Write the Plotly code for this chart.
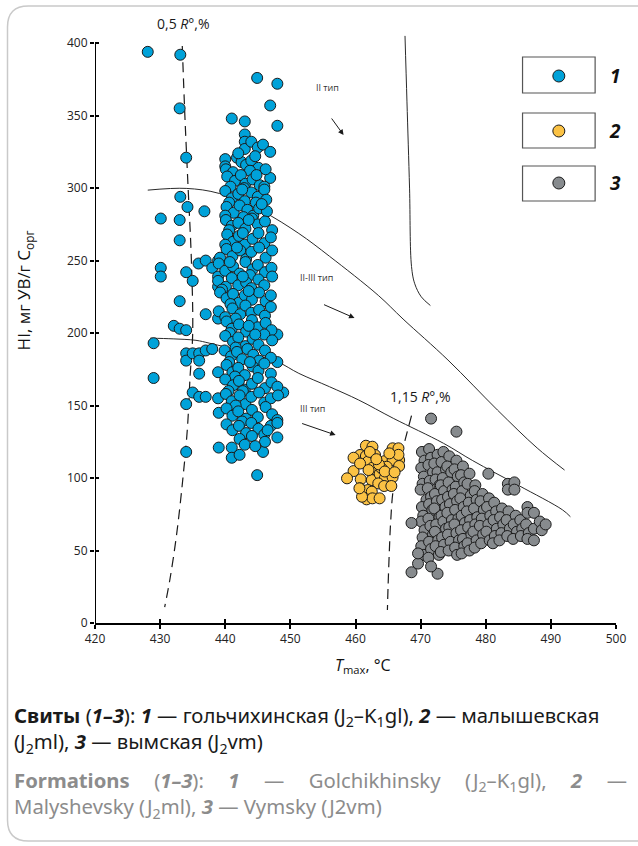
import plotly.graph_objects as go

# ---------------- data ----------------
x_ticks = [420, 430, 440, 450, 460, 470, 480, 490, 500]
y_ticks = [0, 50, 100, 150, 200, 250, 300, 350, 400]

blue_tmax = [
    428.1, 433.1, 433.0, 434.0, 433.1, 434.2, 436.8, 430.1, 433.0, 433.0,
    434.0, 430.1, 430.1, 435.0, 435.9, 437.0, 433.0, 437.0, 438.9, 432.1,
    433.0, 434.0, 429.0, 429.0, 434.0, 434.0, 435.0, 436.0, 437.0, 438.0,
    436.0, 436.0, 435.0, 436.0, 437.0, 434.0, 434.0, 439.0, 439.0, 441.0,
    441.0, 445.8, 444.9, 448.0, 448.9, 448.0, 448.0, 444.9, 448.0, 446.9,
    448.0, 441.0, 443.0, 443.0, 443.0, 443.0, 444.0, 445.0, 445.8, 446.9,
    440.0, 440.0, 441.8, 446.9, 438.9, 438.0, 438.9, 438.9, 438.9, 438.9,
    440.1, 442.5, 443.2, 444.0, 445.1, 443.8, 441.2, 446.2, 444.6, 442.0,
    440.3, 441.5, 442.4, 443.1, 444.2, 445.3, 440.8, 442.9, 444.8, 446.0,
    440.0, 441.0, 442.0, 443.0, 444.0, 445.0, 446.0, 440.6, 442.6, 444.7, 446.3,
    440.2, 441.3, 442.2, 443.4, 444.3, 445.2, 446.4, 440.0, 442.8, 445.6,
    440.1, 441.0, 442.0, 443.1, 444.1, 445.0, 446.1, 447.2, 440.6, 443.6,
    440.3, 441.2, 442.1, 443.0, 444.2, 445.1, 446.0, 447.0, 440.0, 442.7,
    440.2, 441.1, 442.3, 443.2, 444.0, 445.2, 446.2, 447.2, 439.2, 441.8,
    439.0, 440.0, 441.2, 442.2, 443.1, 444.2, 445.0, 446.1, 447.1, 440.7, 443.8,
    438.9, 440.1, 441.0, 442.0, 443.2, 444.0, 445.1, 446.0, 447.2, 439.5, 442.7,
    439.2, 440.2, 441.2, 442.1, 443.0, 444.1, 445.2, 446.2, 447.0, 440.8, 443.6,
    439.0, 440.0, 441.1, 442.3, 443.1, 444.0, 445.2, 446.1, 447.0, 441.6,
    440.2, 441.0, 442.1, 443.2, 444.1, 445.0, 446.2, 447.1, 440.7, 443.6,
    440.0, 441.2, 442.0, 443.1, 444.2, 445.1, 446.0, 447.2, 441.6, 444.6,
    439.9, 440.9, 441.8, 442.6, 443.4, 444.3, 445.2, 446.1, 447.0, 440.6,
    440.2, 441.1, 442.0, 443.0, 444.2, 445.1, 446.0, 447.0, 441.5, 443.8,
    440.0, 441.2, 442.1, 443.0, 444.1, 445.0, 446.1, 447.1, 448.0, 440.5, 442.7,
    440.1, 441.0, 442.2, 443.1, 444.0, 445.2, 446.0, 447.0, 448.1, 441.6,
    440.2, 441.1, 442.0, 443.2, 444.1, 445.0, 446.2, 447.2, 448.0, 442.6,
    440.2, 441.1, 442.1, 443.2, 444.0, 445.1, 446.0, 447.0, 448.0,
    442.2, 443.0, 444.1, 446.1, 444.6, 442.2, 446.5,
]
blue_hi = [
    394, 392, 355, 321, 294, 287, 284, 279, 278, 264,
    242, 245, 239, 236, 248, 250, 222, 213, 210, 205,
    203, 202, 193, 169, 186, 181, 186, 186, 188, 189,
    181, 172, 159, 156, 156, 151, 118, 145, 121, 121,
    114, 118, 102, 128, 159, 180, 199, 376, 372, 357,
    343, 348, 346, 337, 332, 327, 332, 328, 330, 325,
    320, 315, 321, 307, 250, 245, 239, 232, 173, 155,
    313, 318, 316, 319, 314, 312, 311, 313, 322, 324,
    308, 305, 309, 303, 306, 302, 301, 300, 309, 301,
    298, 293, 296, 291, 297, 294, 299, 290, 299, 290, 292,
    287, 283, 288, 285, 281, 286, 284, 281, 280, 289,
    278, 274, 276, 272, 279, 275, 277, 271, 271, 278,
    268, 263, 267, 261, 265, 269, 262, 266, 261, 269,
    258, 253, 257, 251, 256, 259, 252, 257, 252, 259,
    248, 243, 246, 241, 249, 244, 247, 242, 245, 249, 240,
    236, 232, 238, 233, 235, 231, 237, 233, 239, 230, 239,
    228, 224, 227, 221, 226, 223, 228, 222, 226, 220, 229,
    215, 211, 217, 213, 219, 214, 216, 212, 218, 210,
    208, 203, 206, 201, 209, 204, 207, 202, 200, 205,
    198, 194, 197, 191, 196, 192, 199, 195, 190, 199,
    188, 184, 187, 182, 189, 185, 181, 188, 183, 180,
    178, 173, 176, 171, 177, 174, 179, 172, 170, 180,
    168, 164, 167, 161, 165, 169, 162, 166, 163, 160, 160,
    158, 153, 157, 151, 156, 159, 152, 155, 157, 150,
    148, 143, 146, 141, 147, 142, 149, 144, 140, 139,
    137, 133, 136, 131, 138, 134, 130, 136, 138,
    127, 123, 129, 125, 122, 116, 133,
]

yellow_tmax = [
    461.6, 462.6, 460.7, 461.6, 461.9, 463.5, 464.5, 465.7, 466.6, 466.7,
    465.7, 466.7, 464.8, 462.6, 463.4, 459.7, 458.7, 460.8, 462.5, 463.7,
    464.5, 465.7, 463.5, 464.4, 465.5, 460.7, 461.9, 462.5, 461.7, 462.6,
    463.7, 461.0, 464.0, 463.0, 466.6, 459.7, 460.7, 462.0, 463.6, 464.5,
    460.6, 465.2, 462.2, 463.2, 466.0,
]
yellow_hi = [
    122.3, 121.6, 115.9, 115.2, 111.3, 111.3, 111.7, 120.5, 120.5, 112.4,
    112.4, 108.3, 107.8, 107.1, 104.4, 104.8, 99.8, 99.1, 98.6, 102.8,
    99.8, 100.5, 96.3, 94.5, 94.5, 92.9, 91.7, 90.6, 85.3, 86.0,
    86.0, 87.1, 106.7, 115.9, 116.0, 114.0, 110.0, 105.5, 109.4, 104.5,
    92.9, 117.0, 118.0, 113.0, 104.0,
]

gray_tmax = [
    470.2, 470.6, 470.1, 470.5, 470.3, 470.0, 470.9, 470.2, 470.4, 470.1, 470.6, 470.3, 470.1, 470.5,
    471.3, 471.6, 471.2, 471.9, 471.4, 471.1, 471.6, 471.3, 471.8, 471.2, 471.5, 471.9, 471.3, 471.6, 471.2,
    472.6, 472.1, 472.6, 472.3, 472.9, 472.2, 472.5, 472.1, 472.9, 472.4, 472.2, 472.7, 472.3, 472.8,
    473.5, 473.2, 473.9, 473.4, 473.1, 473.6, 473.3, 473.8, 473.2, 473.5, 473.9, 473.3, 473.6, 473.1,
    474.4, 474.1, 474.7, 474.3, 474.9, 474.2, 474.5, 474.1, 474.8, 474.4, 474.2, 474.6, 474.3,
    475.5, 475.2, 475.7, 475.4, 475.1, 475.6, 475.3, 475.8, 475.2, 475.5, 475.9, 475.3, 475.6,
    476.5, 476.2, 476.7, 476.4, 476.1, 476.6, 476.3, 476.8, 476.2, 476.5, 476.7, 476.3,
    477.5, 477.2, 477.7, 477.4, 477.1, 477.6, 477.3, 477.8, 477.2, 477.5,
    478.4, 478.3, 478.6, 478.2, 478.7, 478.4, 478.1, 478.6, 478.3,
    479.5, 479.2, 479.7, 479.4, 479.1, 479.6, 479.3,
    480.4, 480.5, 480.2, 480.7, 480.4, 480.1, 480.6,
    481.3, 481.6, 481.2, 481.7, 481.4, 481.1,
    482.5, 482.2, 482.7, 482.4, 482.1,
    483.4, 483.4, 483.5, 483.2, 483.7, 483.3,
    484.4, 484.4, 484.6, 484.3, 484.8, 484.2,
    485.3, 485.6, 485.4,
    486.4, 486.4, 486.2, 486.6, 486.4,
    487.4, 487.4, 487.4,
    488.3, 488.6, 489.2,
    471.6, 475.5, 468.6, 468.6, 472.6, 471.6, 469.6, 469.6,
]
gray_hi = [
    118, 112, 107, 101, 96, 92, 85, 80, 74, 70, 64, 59, 53, 47,
    120, 114, 109, 104, 98, 93, 87, 82, 78, 72, 67, 61, 56, 51, 45,
    116, 110, 104, 99, 95, 89, 84, 79, 73, 68, 63, 57, 53, 47,
    118, 111, 106, 100, 95, 91, 85, 80, 74, 70, 65, 59, 54, 49,
    115, 108, 104, 97, 92, 87, 82, 76, 71, 66, 61, 56, 50,
    112, 106, 101, 94, 89, 84, 78, 72, 68, 62, 57, 52, 47,
    108, 102, 97, 91, 86, 80, 74, 69, 64, 58, 53, 48,
    103, 96, 88, 83, 77, 71, 66, 61, 55, 50,
    95, 91, 85, 79, 73, 68, 63, 57, 52,
    89, 84, 78, 72, 67, 61, 55,
    103, 86, 80, 74, 68, 63, 57,
    83, 77, 71, 65, 60, 55,
    79, 73, 68, 62, 57,
    96, 92, 77, 71, 65, 60,
    97, 92, 74, 68, 63, 58,
    71, 65, 60,
    80, 76, 68, 62, 58,
    76, 65, 57,
    70, 64, 68,
    141, 132, 69, 35, 34, 39, 41, 48,
]

# iso-reflectance lines (dashed)
r05_tmax = [433.4, 433.8, 434.3, 434.8, 435.0, 434.6, 434.2, 433.5, 432.5, 431.5, 430.7]
r05_hi = [398, 350, 300, 250, 200, 170, 135, 100, 60, 30, 11]
r115_tmax = [468.6, 467.6, 466.6, 465.8, 465.4, 465.2, 465.0, 464.9]
r115_hi = [143, 126, 108, 92, 70, 50, 25, 9]

# kerogen type boundaries (solid)
type2_tmax = [467.6, 467.9, 468.3, 468.6, 469.1, 470.1, 471.5]
type2_hi = [405, 360, 300, 246, 234, 225, 219]
type23_tmax = [428.1, 434.0, 439.1, 445.7, 451.3, 456.0, 463.5, 467.3, 474.2, 481.8, 487.9, 492.1]
type23_hi = [298.6, 299.8, 296.3, 284.0, 268.7, 253.0, 226.0, 209.7, 181.4, 146.9, 120.7, 105.5]
type3_tmax = [428.5, 432.0, 435.5, 437.6, 443.0, 448.0, 451.3, 456.0, 460.5, 465.8, 473.5, 478.0, 485.0, 491.8, 493.0]
type3_hi = [196.5, 196.0, 195.0, 193.0, 187.0, 180.2, 172.2, 163.0, 153.8, 141.2, 124.0, 112.0, 95.0, 78.0, 73.3]

series_labels = ["1", "2", "3"]
series_colors = ["#00A2D9", "#FBC244", "#878B8E"]

# ---------------- layout helpers ----------------
L, T, W, H = 95, 33, 524, 590


def px(x):
    return (x - L) / W


def py(y):
    return (T + H - y) / H


fig = go.Figure()

line_style = dict(color="#2a2a2a", width=1, shape="spline")
dash_style = dict(color="#1a1a1a", width=1.2, dash="10px,6px", shape="spline")

for xs, ys in [(type2_tmax, type2_hi), (type23_tmax, type23_hi), (type3_tmax, type3_hi)]:
    fig.add_trace(go.Scatter(x=xs, y=ys, mode="lines", line=line_style, hoverinfo="skip"))
for xs, ys in [(r05_tmax, r05_hi), (r115_tmax, r115_hi)]:
    fig.add_trace(go.Scatter(x=xs, y=ys, mode="lines", line=dash_style, hoverinfo="skip"))

for xs, ys, col in [(blue_tmax, blue_hi, series_colors[0]),
                    (yellow_tmax, yellow_hi, series_colors[1]),
                    (gray_tmax, gray_hi, series_colors[2])]:
    fig.add_trace(go.Scatter(
        x=xs, y=ys, mode="markers",
        marker=dict(size=11, color=col, line=dict(width=1, color="#1b1b1b")),
    ))

shapes = []
# y axis line (ends at 400)
shapes.append(dict(type="line", xref="x", yref="y", x0=420, x1=420, y0=0, y1=400,
                   line=dict(color="#000", width=2)))
# legend boxes and symbols
legend_rows = [(57, 93, 76), (113, 148, 131), (166, 201, 183)]
for (top, bot, cy), col in zip(legend_rows, series_colors):
    shapes.append(dict(type="rect", xref="paper", yref="paper",
                       x0=px(525), x1=px(598), y0=py(bot), y1=py(top),
                       line=dict(color="#555", width=1.2), fillcolor="white"))
    shapes.append(dict(type="circle", xref="paper", yref="paper",
                       xsizemode="pixel", ysizemode="pixel",
                       xanchor=px(561.5), yanchor=py(cy), x0=-6, x1=6, y0=-6, y1=6,
                       fillcolor=col, line=dict(color="#1b1b1b", width=1)))
# card frame
frame = (f"M {px(660)},{py(6)} L {px(28)},{py(6)} Q {px(7)},{py(6)} {px(7)},{py(27)} "
         f"L {px(7)},{py(820)} Q {px(7)},{py(841)} {px(28)},{py(841)} L {px(660)},{py(841)}")
shapes.append(dict(type="path", xref="paper", yref="paper", path=frame,
                   line=dict(color="#c9c9c9", width=1.5)))

ann = []


def note(x, y, text, font, **kw):
    d = dict(xref="paper", yref="paper", x=px(x), y=py(y), text=text, showarrow=False,
             font=font, xanchor="center", yanchor="middle")
    d.update(kw)
    ann.append(d)


txt_font = dict(family="Open Sans", size=14, color="#1a1a1a")
note(184, 24, "0,5 <i>R</i>°,%", txt_font)
note(422, 396, "1,15 <i>R</i>°,%", txt_font)
small = dict(family="Open Sans", size=9, color="#333")
for label, (lx, ly), (tx0, ty0), (tx1, ty1) in [
    ("II тип", (329, 88), (332, 117), (345, 135)),
    ("II-III тип", (318, 277), (324, 304), (356, 318)),
    ("III тип", (314, 409), (302, 423), (337, 435)),
]:
    note(lx, ly, label, small)
    ann.append(dict(xref="paper", yref="paper", x=px(tx1), y=py(ty1),
                    axref="pixel", ayref="pixel", ax=tx0 - tx1, ay=ty0 - ty1,
                    text="", showarrow=True, arrowhead=2, arrowsize=1.1,
                    arrowwidth=1, arrowcolor="#1a1a1a"))
for (top, bot, cy), lab in zip(legend_rows, series_labels):
    note(618, cy, f"<b><i>{lab}</i></b>", dict(family="Open Sans", size=19, color="#111"))
# axis titles
note(24, 290, "HI, мг УВ/г C<sub>орг</sub>", dict(family="Open Sans", size=17, color="#111"),
     textangle=-90)
note(365, 665, "<i>T</i><sub>max</sub>, °C", dict(family="Open Sans", size=16, color="#111"))

# caption (two paragraphs)
NB = "\u00a0"
gap = NB * 4 + "\u2009"
cap_font = dict(family="Noto Sans", size=20.3, color="#1a1a1a")
en_font = dict(family="Noto Sans", size=20.3, color="#8c8c8c")
ru_text = ("<b>Свиты</b> (<b><i>1–3</i></b>): <b><i>1</i></b> — гольчихинская "
           "(J<sub>2</sub>–K<sub>1</sub>gl), <b><i>2</i></b> — малышевская<br>"
           "(J<sub>2</sub>ml), <b><i>3</i></b> — вымская (J<sub>2</sub>vm)")
en_words = ["<b>Formations</b>", "(<b><i>1–3</i></b>):", "<b><i>1</i></b>", "—",
            "Golchikhinsky", "(J<sub>2</sub>–K<sub>1</sub>gl),", "<b><i>2</i></b>", "—"]
en_text = (gap.join(en_words) + "<br>"
           "Malyshevsky (J<sub>2</sub>ml), <b><i>3</i></b> — Vymsky (J2vm)")
note(12, 699, ru_text, cap_font, xanchor="left", yanchor="top", align="left")
note(12, 764, en_text, en_font, xanchor="left", yanchor="top", align="left")

tick_font = dict(family="Open Sans", size=12, color="#222")
fig.update_layout(
    width=638, height=846, autosize=False,
    margin=dict(l=L, r=638 - L - W, t=T, b=846 - T - H),
    paper_bgcolor="white", plot_bgcolor="white",
    showlegend=False,
    xaxis=dict(range=[420, 500], tickvals=x_ticks, ticks="outside", ticklen=4, tickwidth=2,
               tickcolor="#000", showline=True, linecolor="#000", linewidth=2,
               showgrid=False, zeroline=False, tickfont=tick_font, fixedrange=True),
    yaxis=dict(range=[0, 407], tickvals=y_ticks, ticks="outside", ticklen=4, tickwidth=2,
               tickcolor="#000", showline=False, showgrid=False, zeroline=False,
               tickfont=tick_font, fixedrange=True),
    xaxis2=dict(range=[420, 500], overlaying="x", anchor="y", side="bottom", tickvals=x_ticks,
                ticks="inside", ticklen=4, tickwidth=2, tickcolor="#000",
                showticklabels=False, showgrid=False, zeroline=False, showline=False),
    yaxis2=dict(range=[0, 407], overlaying="y", anchor="x", side="left", tickvals=y_ticks,
                ticks="inside", ticklen=4, tickwidth=2, tickcolor="#000",
                showticklabels=False, showgrid=False, zeroline=False, showline=False),
    shapes=shapes, annotations=ann,
)
# invisible trace to activate overlay axes
fig.add_trace(go.Scatter(x=[None], y=[None], xaxis="x2", yaxis="y2", mode="markers",
                         hoverinfo="skip"))

fig.write_html("out.html", config={"displayModeBar": False},
               post_script="document.body.style.margin='0px';")
